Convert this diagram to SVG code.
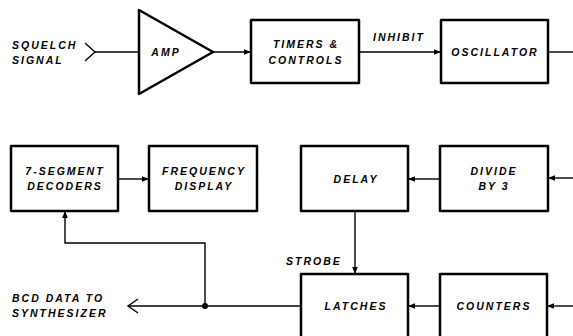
<svg xmlns="http://www.w3.org/2000/svg" width="573" height="336" viewBox="0 0 573 336">
<defs>
<marker id="ah" viewBox="0 0 10 10" refX="10" refY="5" markerWidth="7" markerHeight="7" markerUnits="userSpaceOnUse" orient="auto">
<path d="M0,1 L10,5 L0,9 Z" fill="#000"/>
</marker>
</defs>
<style>
.box{fill:#fff;stroke:#000;stroke-width:2.5;stroke-linejoin:round}
.ln{fill:none;stroke:#000;stroke-width:1.4}
.t{font-family:"Liberation Sans",Arial,sans-serif;font-style:italic;font-weight:bold;font-size:10.5px;letter-spacing:2px;fill:#000}
.c{text-anchor:middle}
</style>
<rect width="573" height="336" fill="#fff"/>
<g id="connectors">
<path class="ln" d="M85,43 L95,52 L85,61"/>
<line class="ln" x1="95" y1="52" x2="139" y2="52"/>
<line class="ln" x1="213" y1="52" x2="251" y2="52" marker-end="url(#ah)"/>
<line class="ln" x1="359" y1="52" x2="441" y2="52" marker-end="url(#ah)"/>
<line class="ln" x1="548" y1="52" x2="573" y2="52"/>
<line class="ln" x1="118" y1="179" x2="149" y2="179" marker-end="url(#ah)"/>
<line class="ln" x1="440" y1="179" x2="408" y2="179" marker-end="url(#ah)"/>
<line class="ln" x1="573" y1="178" x2="548" y2="178" marker-end="url(#ah)"/>
<line class="ln" x1="355" y1="211" x2="355" y2="274" marker-end="url(#ah)"/>
<path class="ln" d="M205,306 L205,243 L65,243 L65,211" marker-end="url(#ah)"/>
<line class="ln" x1="128" y1="306" x2="301" y2="306"/>
<path class="ln" d="M138,299 L128,306 L138,313"/>
<circle cx="205" cy="306" r="3" fill="#000"/>
<line class="ln" x1="440" y1="306" x2="408" y2="306" marker-end="url(#ah)"/>
<line class="ln" x1="573" y1="306" x2="547" y2="306" marker-end="url(#ah)"/>
<text class="t" x="373" y="41">INHIBIT</text>
<text class="t" x="286" y="265">STROBE</text>
<text class="t" x="12" y="49">SQUELCH</text>
<text class="t" x="12" y="64">SIGNAL</text>
<text class="t" x="12" y="302">BCD DATA TO</text>
<text class="t" x="12" y="317">SYNTHESIZER</text>
</g>
<g id="amp">
<path class="box" d="M139,10 L213,52 L139,94 Z"/>
<text class="t c" x="166" y="56">AMP</text>
</g>
<g id="timers">
<rect class="box" x="251" y="20" width="108" height="63"/>
<text class="t c" x="306" y="48">TIMERS &amp;</text>
<text class="t c" x="306" y="64">CONTROLS</text>
</g>
<g id="oscillator">
<rect class="box" x="441" y="20" width="107" height="63"/>
<text class="t c" x="495" y="56">OSCILLATOR</text>
</g>
<g id="decoders">
<rect class="box" x="11" y="146" width="107" height="65"/>
<text class="t c" x="65" y="175">7-SEGMENT</text>
<text class="t c" x="65" y="190">DECODERS</text>
</g>
<g id="display">
<rect class="box" x="149" y="146" width="108" height="65"/>
<text class="t c" x="204" y="175">FREQUENCY</text>
<text class="t c" x="204" y="190">DISPLAY</text>
</g>
<g id="delay">
<rect class="box" x="301" y="146" width="107" height="65"/>
<text class="t c" x="356" y="183">DELAY</text>
</g>
<g id="divide">
<rect class="box" x="440" y="146" width="108" height="65"/>
<text class="t c" x="494" y="175">DIVIDE</text>
<text class="t c" x="494" y="190">BY 3</text>
</g>
<g id="latches">
<rect class="box" x="301" y="274" width="107" height="80"/>
<text class="t c" x="356" y="310">LATCHES</text>
</g>
<g id="counters">
<rect class="box" x="440" y="274" width="107" height="80"/>
<text class="t c" x="494" y="310">COUNTERS</text>
</g>
</svg>
